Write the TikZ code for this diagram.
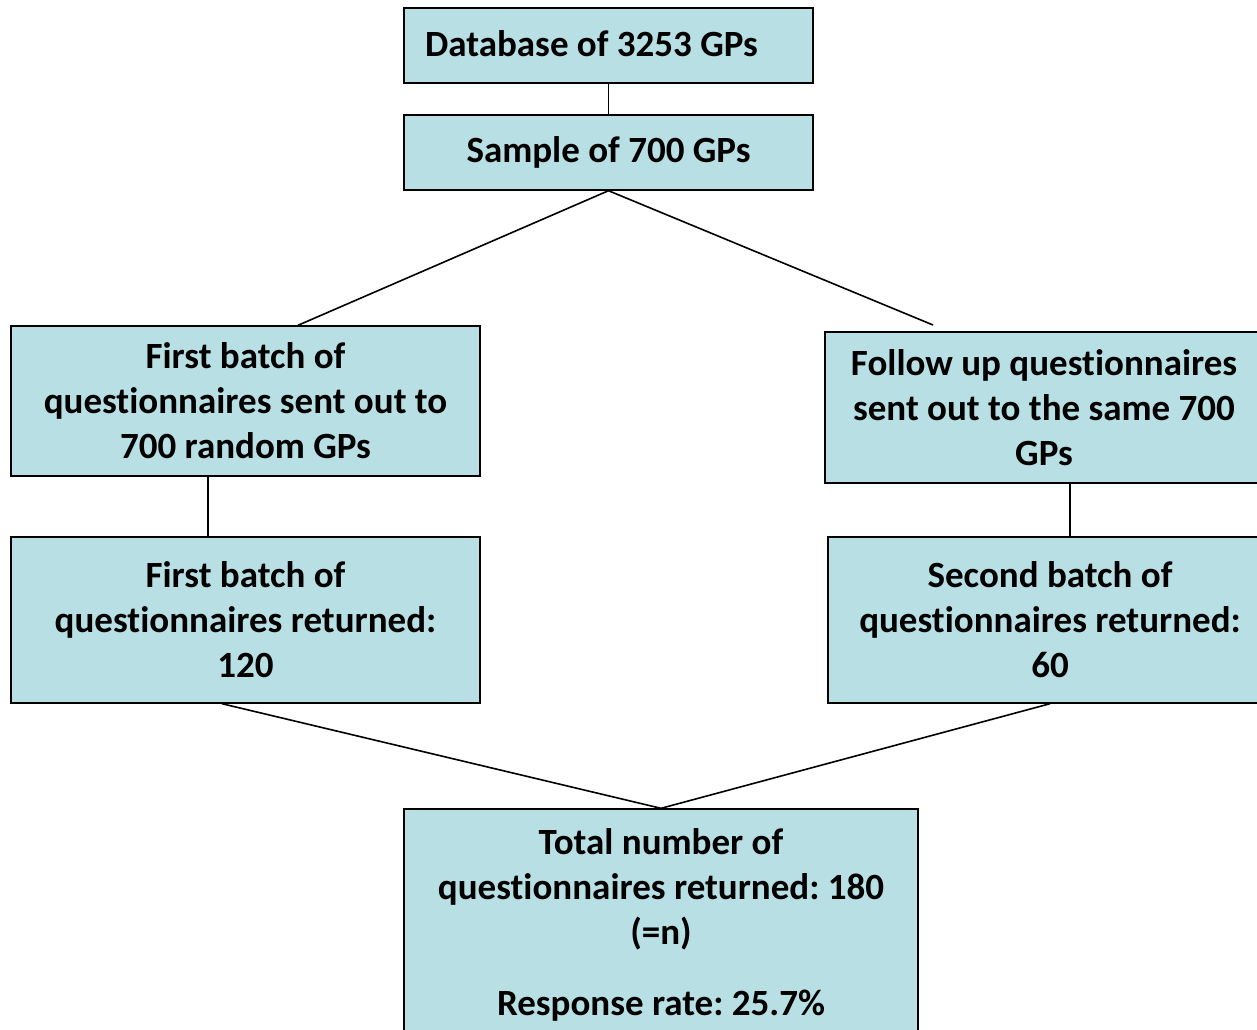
\documentclass[tikz,border=0pt]{standalone}
\usepackage{fontspec}
\setmainfont[RawFeature=-liga]{Carlito}
\definecolor{boxfill}{HTML}{B8DFE3}
\begin{document}
\frenchspacing
\begin{tikzpicture}[x=1pt,y=-1pt,
  box/.style={draw=black, line width=1.4pt, fill=boxfill, align=center, inner sep=0pt,
    font=\fontsize{37}{45}\selectfont\bfseries},
  link/.style={draw=black, line width=1.6pt}]
\useasboundingbox (0,0) rectangle (1257,1029);
\clip (0,0) rectangle (1257,1029);
\node[box, minimum width=409, minimum height=75] (db) at (608.5,45.5) {\raisebox{3pt}{\hspace*{-34pt}Database of 3253 GPs}};
\node[box, minimum width=409, minimum height=75] (sample) at (608.5,152.5) {\raisebox{2pt}{Sample of 700 GPs}};
\node[box, minimum width=469, minimum height=150] (first) at (245.5,401) {First batch of\\questionnaires sent out to\\700 random GPs};
\node[box, minimum width=438, minimum height=151] (follow) at (1044,407.5) {Follow up questionnaires\\sent out to the same 700\\GPs};
\node[box, minimum width=469, minimum height=166] (firstret) at (245.5,620) {First batch of\\questionnaires returned:\\120};
\node[box, minimum width=444, minimum height=166] (second) at (1050,620) {Second batch of\\questionnaires returned:\\60};
\node[box, minimum width=514, minimum height=231] (total) at (661,924.5) {Total number of\\questionnaires returned: 180\\(=n)\\[26pt]Response rate: 25.7\%};
\coordinate (fe) at (933,325);
\draw[link] (db.south) -- (sample.north);
\draw[link] (sample.south) -- (first.north -| 298,0);
\draw[link] (sample.south) -- (fe);
\draw[link] (first.south -| 208,0) -- (firstret.north -| 208,0);
\draw[link] (follow.south -| 1070,0) -- (second.north -| 1070,0);
\draw[link] (firstret.south -| 222,0) -- (total.north);
\draw[link] (second.south) -- (total.north);
\end{tikzpicture}
\end{document}
